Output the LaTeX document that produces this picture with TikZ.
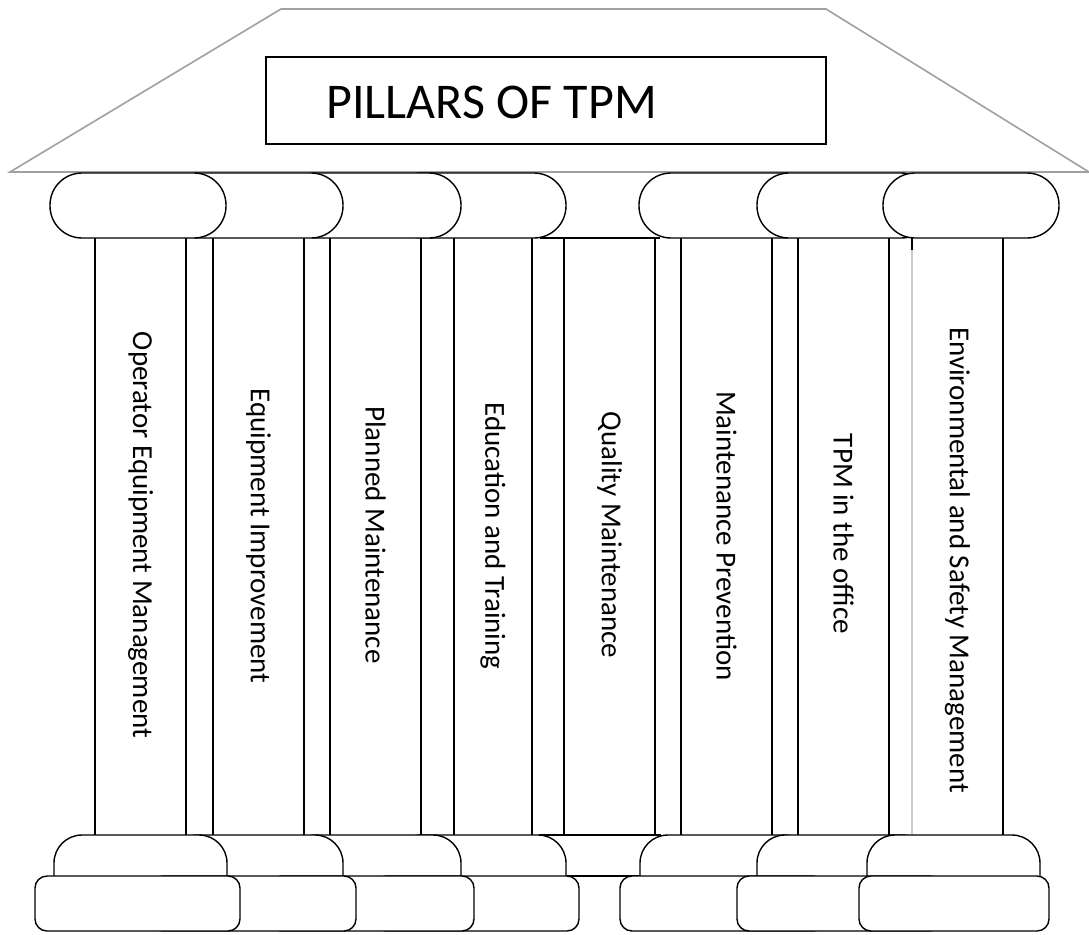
\documentclass[tikz,border=0pt]{standalone}
\usepackage{fontspec}
\setmainfont{Carlito}
\usetikzlibrary{positioning}
\definecolor{roofgray}{HTML}{A0A0A0}
\definecolor{shaftgray}{HTML}{CCCCCC}

\begin{document}
\begin{tikzpicture}[x=0.5pt,y=-0.5pt,
  roof/.style={draw=roofgray,line width=0.8pt,fill=white},
  capital/.style={draw,line width=0.7pt,fill=white,rounded corners=16pt},
  basering/.style={draw,line width=0.7pt,fill=white,rounded corners=14pt},
  plinth/.style={draw,line width=0.7pt,fill=white,rounded corners=6pt},
  shaft/.style={line width=0.7pt},
  pillartext/.style={rotate=-90,font=\fontsize{14.5}{17}\selectfont,inner sep=0pt}
]
\useasboundingbox (0,0) rectangle (1089,934);
\draw[roof] (281,9) -- (826,9) -- (1089,172) -- (10,172) -- cycle;
\node[draw,line width=0.6pt,minimum width=280pt,minimum height=43.5pt,inner sep=0pt] (titlebox) at (546,100.5) {};
\node[anchor=base west,inner sep=0pt,font=\fontsize{25}{30}\selectfont] (title) at (326,118) {PILLARS OF TPM};

\foreach \l/\r in {95/186,213/304,330/421,454/532,564/655,681/772,798/889}
  \draw[shaft] (\l,238) -- (\l,835) (\r,238) -- (\r,835);
\draw[shaft,shaftgray] (912,238) -- (912,835);
\draw[shaft] (912,238) -- (912,250) (1003,238) -- (1003,835);

\draw[shaft] (540,238) -- (660,238);
\draw[shaft,fill=white] (540,835) rectangle (660,876);

\foreach \x in {390,285,167,50}
  \draw[capital] (\x,173) rectangle ++(176,65);
\foreach \x in {639,757,883}
  \draw[capital] (\x,173) rectangle ++(176,65);

\foreach \x in {393,288,170,54}
  \draw[basering] (\x,835) rectangle ++(173,70);
\foreach \x in {640,757,867}
  \draw[basering] (\x,835) rectangle ++(173,70);

\foreach \x in {374,269,151,35}
  \draw[plinth] (\x,876) rectangle ++(205,55);
\foreach \x/\w in {620/205,737/205,859/190}
  \draw[plinth] (\x,876) rectangle ++(\w,55);

\foreach \x/\y/\t [count=\i] in {
  140.5/535/Operator Equipment Management,
  258.5/536/Equipment Improvement,
  375.5/535/Planned Maintenance,
  493/536/Education and Training,
  609.5/535/Quality Maintenance,
  726.5/536/Maintenance Prevention,
  843.5/534/TPM in the office,
  957.5/560/Environmental and Safety Management}
  \node[pillartext] (pillar\i) at (\x,\y) {\t};
\end{tikzpicture}
\end{document}
